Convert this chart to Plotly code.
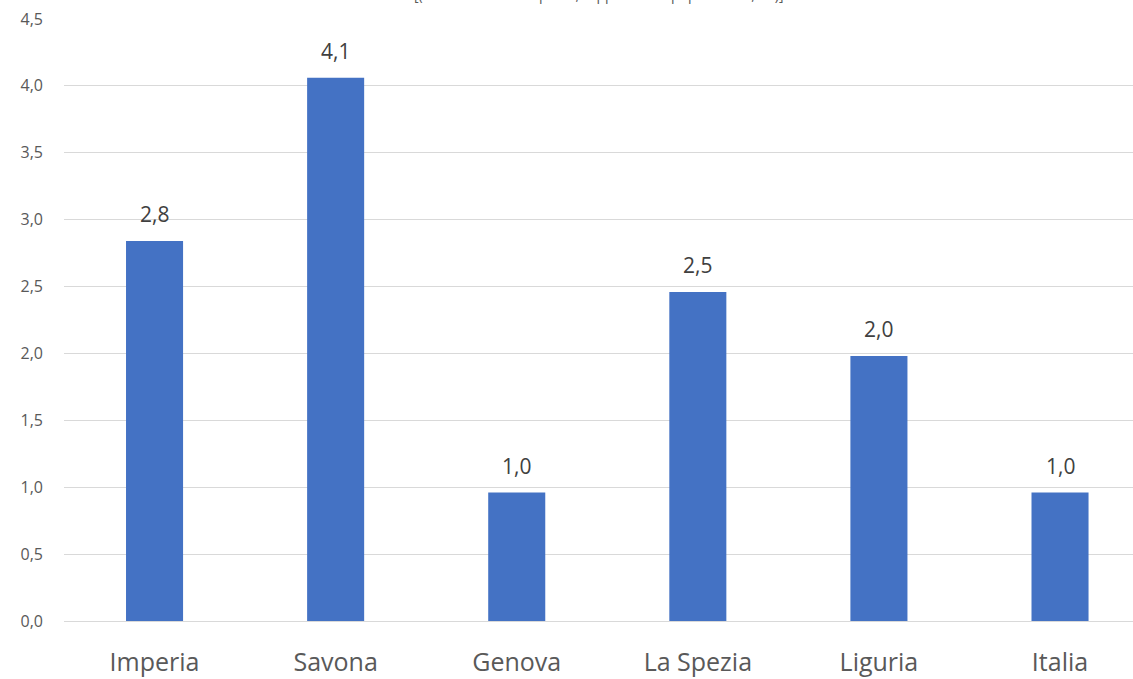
import plotly.graph_objects as go

# Province / area labels and their values
categories = ["Imperia", "Savona", "Genova", "La Spezia", "Liguria", "Italia"]
values = [2.84, 4.06, 0.96, 2.46, 1.98, 0.96]

# Y-axis ticks
y_ticks = [0, 0.5, 1.0, 1.5, 2.0, 2.5, 3.0, 3.5, 4.0, 4.5]
y_tick_text = ["0,0", "0,5", "1,0", "1,5", "2,0", "2,5", "3,0", "3,5", "4,0", "4,5"]

subtitle = "[(valori su totale imprese, rapporto alla popolazione, ‰)]"

FONT = "Open Sans, Liberation Sans, sans-serif"
BAR = "#4472c4"
GRID = "#d9d9d9"

fig = go.Figure(
    go.Bar(
        x=categories,
        y=values,
        marker=dict(color=BAR, line=dict(width=0)),
        hoverinfo="x+y",
    )
)

# Value labels above each bar
for c, v in zip(categories, values):
    fig.add_annotation(
        x=c, y=v, xref="x", yref="y",
        text=f"{v:.1f}".replace(".", ","),
        showarrow=False, yanchor="bottom", yshift=11,
        font=dict(family=FONT, size=21, color="#404040"),
    )

# Subtitle along the top edge of the page
fig.add_annotation(
    x=0.5, y=1.0, xref="paper", yref="paper",
    text=subtitle, showarrow=False, xanchor="center", yanchor="bottom",
    yshift=13, font=dict(family=FONT, size=14, color="#595959"),
)

fig.update_layout(
    width=1133, height=679, autosize=False,
    margin=dict(l=64, r=0, t=19, b=58),
    plot_bgcolor="white", paper_bgcolor="white",
    bargap=0.685,
    showlegend=False,
    font=dict(family=FONT, color="#595959"),
)
fig.update_xaxes(
    range=[-0.5, 5.403],
    showgrid=False, showline=False, zeroline=False,
    tickfont=dict(family=FONT, size=25, color="#595959"),
    ticklabelstandoff=24,
)
fig.update_yaxes(
    range=[0, 4.5],
    tickvals=y_ticks, ticktext=y_tick_text,
    showgrid=True, gridcolor=GRID, gridwidth=1,
    zeroline=True, zerolinecolor=GRID, zerolinewidth=1,
    showline=False,
    tickfont=dict(family=FONT, size=16, color="#595959"),
    ticklabelstandoff=20,
)

fig.write_html("out.html")
